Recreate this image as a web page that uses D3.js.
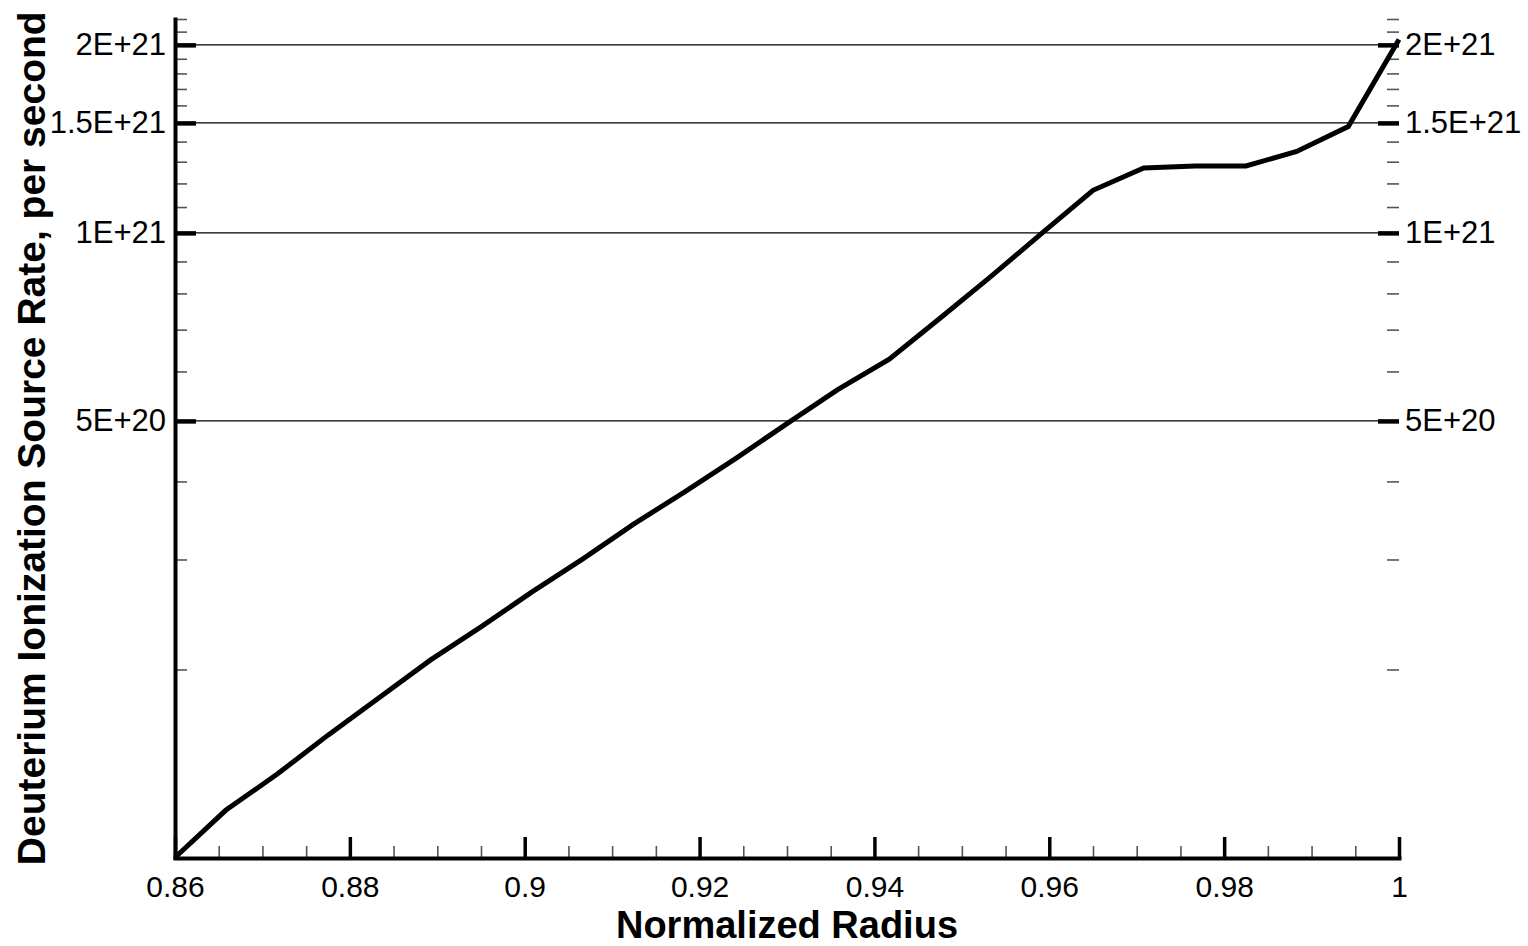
<!DOCTYPE html>
<html>
<head>
<meta charset="utf-8">
<script src="https://cdn.jsdelivr.net/npm/d3@7"></script>
<style>
  body { margin: 0; background: #fff; }
  text { font-family: "Liberation Sans", Arial, sans-serif; fill: #000; }
</style>
</head>
<body>
<div class="chart"></div>
<script>
// data
var radius = [0.86, 0.8658, 0.8717, 0.8775, 0.8833, 0.8892, 0.895, 0.9008, 0.9067, 0.9125,
  0.9183, 0.9242, 0.93, 0.9358, 0.9417, 0.9475, 0.9533, 0.9592, 0.965, 0.9708,
  0.9767, 0.9825, 0.9883, 0.9942, 1.0];
var sourceRate = [1.0e20, 1.19e20, 1.36e20, 1.57e20, 1.80e20, 2.07e20, 2.34e20, 2.66e20, 3.01e20, 3.42e20,
  3.85e20, 4.36e20, 4.95e20, 5.61e20, 6.28e20, 7.30e20, 8.51e20, 1.0e21, 1.17e21, 1.27e21,
  1.28e21, 1.28e21, 1.35e21, 1.48e21, 2.04e21];

var xMajor = [0.86, 0.88, 0.9, 0.92, 0.94, 0.96, 0.98, 1];
var xMinor = [0.865, 0.87, 0.875, 0.885, 0.89, 0.895, 0.905, 0.91, 0.915, 0.925, 0.93, 0.935,
  0.945, 0.95, 0.955, 0.965, 0.97, 0.975, 0.985, 0.99, 0.995];
var yMajor = [5e20, 1e21, 1.5e21, 2e21];
var yMajorLabels = ["5E+20", "1E+21", "1.5E+21", "2E+21"];
var yMinor = [2e20, 3e20, 4e20, 6e20, 7e20, 8e20, 9e20, 1.1e21, 1.2e21, 1.3e21, 1.4e21,
  1.6e21, 1.7e21, 1.8e21, 1.9e21, 2.1e21, 2.2e21];

var svgWidth = 1528;
var svgHeight = 946;

var margin = { top: 19, right: 129, bottom: 88.5, left: 175 };
var width = svgWidth - margin.left - margin.right;
var height = svgHeight - margin.top - margin.bottom;

var svg = d3.select(".chart")
  .append("svg")
  .attr("width", svgWidth)
  .attr("height", svgHeight)
  .append("g")
  .attr("transform", "translate(" + margin.left + "," + margin.top + ")");

var xScale = d3.scaleLinear().domain([0.86, 1]).range([0, width]);
var yScale = d3.scaleLog().domain([1e20, 2.2e21]).range([height, 0]);

// grid lines at the labelled values
svg.selectAll(".grid")
  .data(yMajor)
  .enter()
  .append("line")
  .attr("class", "grid")
  .attr("x1", 0)
  .attr("x2", width - 21)
  .attr("y1", d => yScale(d))
  .attr("y2", d => yScale(d))
  .attr("stroke", "#000")
  .attr("stroke-width", 1.3);

// left axis
var leftMinor = svg.append("g")
  .call(d3.axisLeft(yScale).tickValues(yMinor).tickSizeInner(-12).tickSizeOuter(0).tickFormat(""));
leftMinor.select(".domain").remove();
leftMinor.selectAll(".tick line").attr("stroke", "#555").attr("stroke-width", 1.6);

var leftMajor = svg.append("g")
  .call(d3.axisLeft(yScale).tickValues(yMajor).tickSizeInner(-21).tickSizeOuter(0).tickPadding(9)
    .tickFormat((d, i) => yMajorLabels[i]));
leftMajor.select(".domain").attr("stroke-width", 4).attr("stroke-linecap", "square");
leftMajor.selectAll(".tick line").attr("stroke-width", 4.5);
leftMajor.selectAll(".tick text").attr("font-size", "31px");

// right axis, ticks only
var rightMinor = svg.append("g")
  .attr("transform", "translate(" + width + ",0)")
  .call(d3.axisRight(yScale).tickValues(yMinor).tickSizeInner(-12).tickSizeOuter(0).tickFormat(""));
rightMinor.select(".domain").remove();
rightMinor.selectAll(".tick line").attr("stroke", "#555").attr("stroke-width", 1.6);

var rightMajor = svg.append("g")
  .attr("transform", "translate(" + width + ",0)")
  .call(d3.axisRight(yScale).tickValues(yMajor).tickSizeInner(-21).tickSizeOuter(0).tickPadding(6)
    .tickFormat((d, i) => yMajorLabels[i]));
rightMajor.select(".domain").remove();
rightMajor.selectAll(".tick line").attr("stroke-width", 4.5);
rightMajor.selectAll(".tick text").attr("font-size", "31px");

// bottom axis
var bottomMinor = svg.append("g")
  .attr("transform", "translate(0," + (height + 0.5) + ")")
  .call(d3.axisBottom(xScale).tickValues(xMinor).tickSizeInner(-12).tickSizeOuter(0).tickFormat(""));
bottomMinor.select(".domain").remove();
bottomMinor.selectAll(".tick line").attr("stroke", "#555").attr("stroke-width", 1.6);

var bottomMajor = svg.append("g")
  .attr("transform", "translate(0," + (height + 0.5) + ")")
  .call(d3.axisBottom(xScale).tickValues(xMajor).tickSizeInner(-21).tickSizeOuter(0).tickPadding(17.5)
    .tickFormat(d3.format("")));
bottomMajor.select(".domain").attr("stroke-width", 4).attr("stroke-linecap", "square");
bottomMajor.selectAll(".tick line").attr("stroke-width", 3.5);
bottomMajor.selectAll(".tick text").attr("font-size", "30px");

// the curve
var line = d3.line()
  .x((d, i) => xScale(radius[i]))
  .y(d => yScale(d));

svg.append("path")
  .datum(sourceRate)
  .attr("d", line)
  .attr("fill", "none")
  .attr("stroke", "#000")
  .attr("stroke-width", 5)
  .attr("stroke-linejoin", "miter");

// axis titles
svg.append("text")
  .attr("x", width / 2)
  .attr("y", height + 80.5)
  .attr("text-anchor", "middle")
  .attr("font-size", "38px")
  .attr("font-weight", "bold")
  .text("Normalized Radius");

svg.append("text")
  .attr("transform", "rotate(-90)")
  .attr("x", -height / 2)
  .attr("y", 45 - margin.left)
  .attr("text-anchor", "middle")
  .attr("font-size", "39px")
  .attr("font-weight", "bold")
  .text("Deuterium Ionization Source Rate, per second");
</script>
</body>
</html>
